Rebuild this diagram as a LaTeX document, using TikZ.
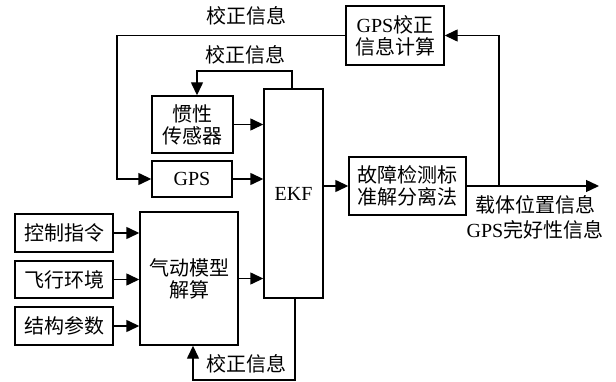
\documentclass[tikz,border=0pt]{standalone}
\usepackage{fontspec}
\setmainfont{Liberation Serif}
\newfontfamily\cjk{Noto Sans CJK SC}
\usetikzlibrary{arrows.meta, positioning}

\begin{document}
\begin{tikzpicture}[x=1pt, y=-1pt,
    blk/.style={draw, line width=1.4pt, align=center, inner sep=0pt, font=\fontsize{20}{22}\selectfont\cjk},
    arr/.style={line width=1.4pt, -{Triangle[length=13pt, width=12pt]}},
    lbl/.style={align=center, font=\fontsize{20}{25}\selectfont\cjk},
]
\useasboundingbox (0,0) rectangle (616,382);
% blocks
\node[blk, minimum width=98pt, minimum height=59pt] (calc) at (395,35.5) {{\rmfamily GPS}校正\\信息计算};
\node[blk, minimum width=81pt, minimum height=57pt] (ins) at (192.5,124.5) {惯性\\传感器};
\node[blk, minimum width=80pt, minimum height=36pt] (gps) at (192,179) {\rmfamily GPS};
\node[blk, minimum width=59pt, minimum height=209pt] (ekf) at (293.5,193.5) {\rmfamily EKF};
\node[blk, minimum width=117pt, minimum height=58pt] (fde) at (407.5,186) {故障检测标\\准解分离法};
\node[blk, minimum width=98pt, minimum height=38pt] (cmd) at (64,233) {控制指令};
\node[blk, minimum width=98pt, minimum height=37pt] (env) at (64,279.5) {飞行环境};
\node[blk, minimum width=98pt, minimum height=38pt] (par) at (64,326) {结构参数};
\node[blk, minimum width=98pt, minimum height=133pt] (aero) at (189,278.5) {气动模型\\解算};
% corner points
\coordinate (l1) at (117,0);
\coordinate (k1) at (292,71);
\coordinate (k3) at (295,380);
\coordinate (br) at (499,0);
\coordinate (out) at (599,186);
% connectors
\draw[arr] (calc.west) -- (calc.west -| l1) |- (gps.west);
\draw[arr] (ekf.north -| k1) -- (k1) -| ([xshift=4.5pt]ins.north);
\draw[arr] (ins.east) -- (ins.east -| ekf.west);
\draw[arr] (gps.east) -- (gps.east -| ekf.west);
\draw[arr] (fde.west -| ekf.east) -- (fde.west);
\draw[arr] (fde.east) -- (out);
\draw[arr] (fde.east -| br) |- (calc.east);
\draw[arr] (cmd.east) -- (cmd.east -| aero.west);
\draw[arr] (env.east) -- (env.east -| aero.west);
\draw[arr] (par.east) -- (par.east -| aero.west);
\draw[arr] (aero.east) -- (aero.east -| ekf.west);
\draw[arr] (ekf.south -| k3) -- (k3) -| ([xshift=4pt]aero.south);
% labels
\node[lbl] (t1) at (246,16) {校正信息};
\node[lbl] (t2) at (245,55) {校正信息};
\node[lbl] (t3) at (246,364) {校正信息};
\node[lbl] (t4) at (535,217.5) {载体位置信息\\{\rmfamily GPS}完好性信息};
\end{tikzpicture}
\end{document}
